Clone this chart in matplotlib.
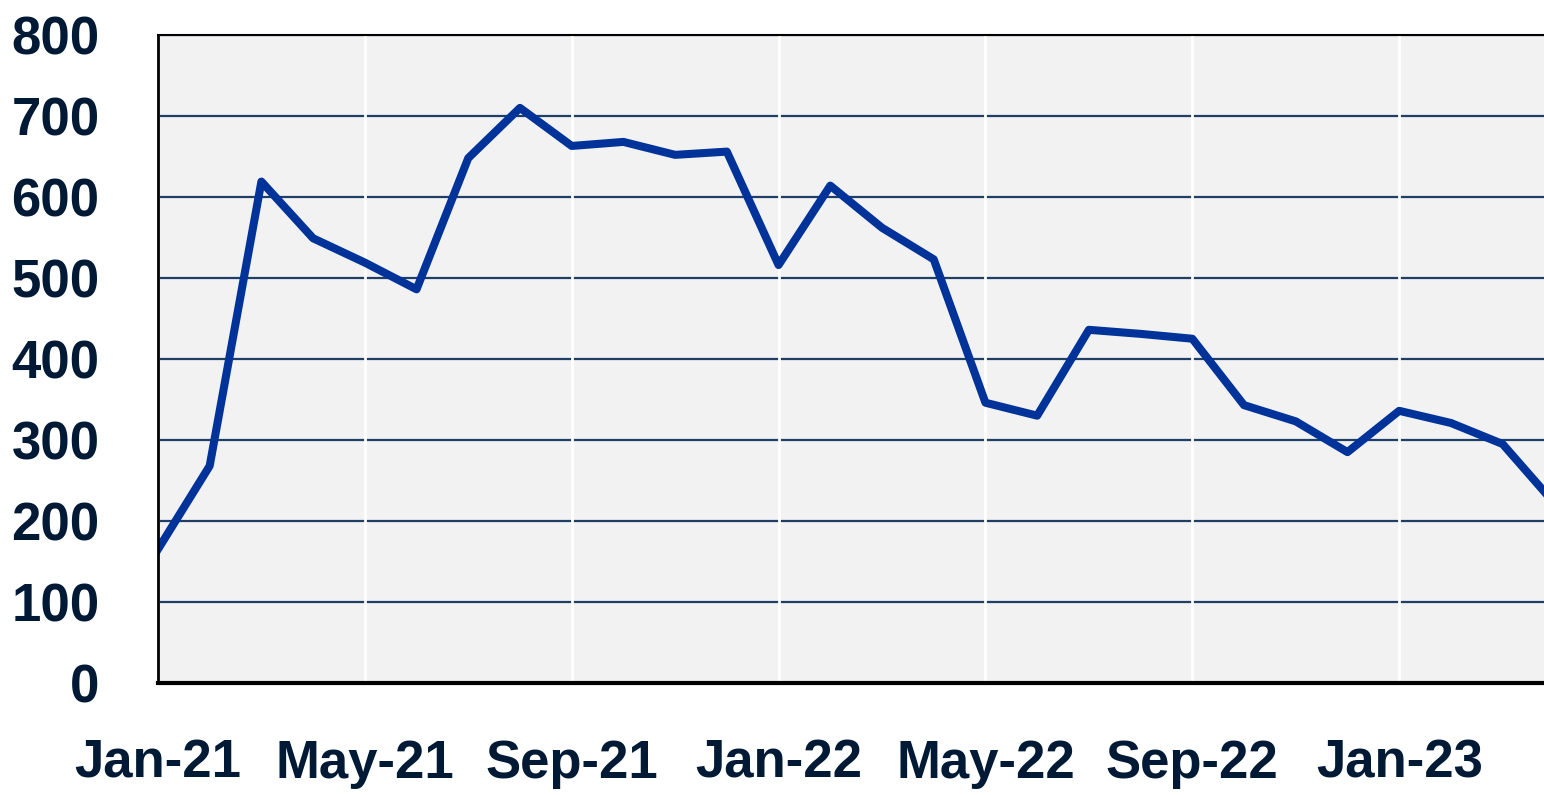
import matplotlib
matplotlib.use('Agg')
import matplotlib.pyplot as plt
import matplotlib.ticker as ticker

months = ['Jan-21', 'Feb-21', 'Mar-21', 'Apr-21', 'May-21', 'Jun-21', 'Jul-21',
          'Aug-21', 'Sep-21', 'Oct-21', 'Nov-21', 'Dec-21', 'Jan-22', 'Feb-22',
          'Mar-22', 'Apr-22', 'May-22', 'Jun-22', 'Jul-22', 'Aug-22', 'Sep-22',
          'Oct-22', 'Nov-22', 'Dec-22', 'Jan-23', 'Feb-23', 'Mar-23', 'Apr-23']
values = [165, 268, 619, 549, 519, 486, 648, 710, 663, 668, 652, 656, 516, 614,
          562, 523, 346, 330, 436, 431, 425, 343, 323, 285, 336, 321, 295, 222]
y_ticks = [0, 100, 200, 300, 400, 500, 600, 700, 800]

text_color = '#001a35'
plt.rcParams['font.family'] = ['Liberation Sans', 'DejaVu Sans']
plt.rcParams['font.weight'] = 'bold'

fig = plt.figure(figsize=(15.44, 7.95), dpi=100)
ax = fig.add_axes([0.1023, 0.1409, 0.8977, 0.8151])
ax.set_facecolor('#f2f2f2')

x = list(range(len(months)))
ax.plot(x, values, color='#003399', linewidth=5.8, solid_joinstyle='round', zorder=3)

ax.set_xlim(0, 26.8)
ax.set_ylim(0, 800)
ax.set_yticks(y_ticks)
ax.xaxis.set_major_locator(ticker.FixedLocator(x[::4]))
ax.set_xticklabels(months[::4])

# dark horizontal grid, white vertical grid on top of it
ax.grid(axis='y', color='#1f3f66', linewidth=1.6)
ax.grid(axis='x', color='white', linewidth=2)
ax.yaxis.set_zorder(0.4)
ax.xaxis.set_zorder(0.6)

ax.tick_params(axis='y', length=0, pad=42, labelsize=38, labelcolor=text_color)
ax.tick_params(axis='x', length=0, pad=40, labelsize=38, labelcolor=text_color)

ax.spines['right'].set_visible(False)
ax.spines['top'].set_linewidth(1.5)
ax.spines['left'].set_linewidth(2)
ax.spines['bottom'].set_linewidth(3)
for s in ax.spines.values():
    s.set_zorder(4)

fig.savefig('out.png', dpi=100)
